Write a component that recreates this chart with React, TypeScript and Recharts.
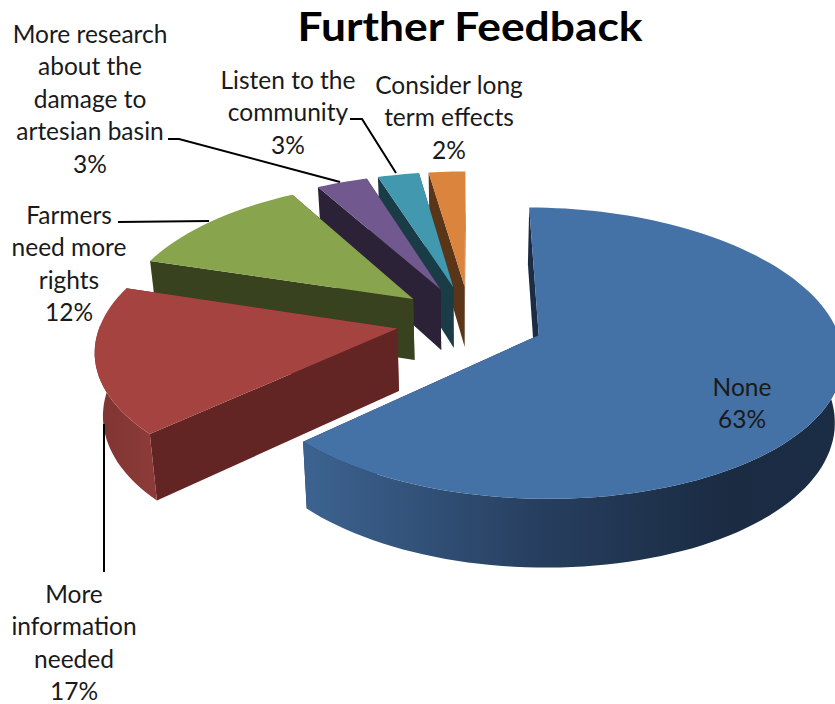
import { PieChart, Pie } from "recharts";

const categories = [
  "None",
  "More information needed",
  "Farmers need more rights",
  "More research about the damage to artesian basin",
  "Listen to the community",
  "Consider long term effects",
];
const shares = [63.2, 16.5, 11.9, 3.3, 2.7, 2.4];

const labelLines = [
  ["None"],
  ["More", "information", "needed"],
  ["Farmers", "need more", "rights"],
  ["More research", "about the", "damage to", "artesian basin"],
  ["Listen to the", "community"],
  ["Consider long", "term effects"],
];

const topColors = ["#4471a6", "#a54340", "#88a44d", "#71588f", "#4198af", "#db843d"];
const wallColors = ["#1b2c44", "#622523", "#39421f", "#2c2238", "#193c46", "#5a3518"];
const rimFills = ["url(#rimBlue)", "url(#rimRed)", "#39421f", "#2c2238", "#193c46", "#5a3518"];

// label centre x, first baseline y, leader line points
const labelLayout = [
  { x: 742, y: 396, leader: "" },
  { x: 74, y: 603, leader: "104,424 104,572" },
  { x: 69, y: 224, leader: "118,222 209,221" },
  { x: 90, y: 43, leader: "168,139 179,139 340,182" },
  { x: 288, y: 89, leader: "350,119 362,119 396,173" },
  { x: 449, y: 94, leader: "" },
];

const CX = 470;
const CY = 320.7;
const EXPLODE = 0.25;
const DEPTH = 62;

const tableData = categories
  .map((name, i) => ({ name, value: shares[i], idx: i }))
  .reverse();

// pie plane (x right, y towards viewer) to screen
const project = (x: number, y: number, rx: number, down = false) => {
  const sx = CX + rx * x * (1 + 0.14 * y);
  const sy = CY + 142 * y + 18 * y * y;
  if (!down) return [sx, sy];
  return [CX + (sx - CX) * 0.978, sy + DEPTH * (1 + 0.1 * y)];
};

const pt = (p: number[]) => `${p[0].toFixed(1)} ${p[1].toFixed(1)}`;

const Slice3D = (props: any) => {
  const { startAngle, endAngle, outerRadius, payload } = props;
  const idx = payload.idx;
  const rx = outerRadius;
  const mid = ((startAngle + endAngle) / 2) * (Math.PI / 180);
  const ox = EXPLODE * Math.cos(mid);
  const oy = -EXPLODE * Math.sin(mid);

  const at = (deg: number, r: number, down = false) => {
    const a = (deg * Math.PI) / 180;
    return project(ox + r * Math.cos(a), oy - r * Math.sin(a), rx, down);
  };

  const steps = Math.max(6, Math.round(Math.abs(endAngle - startAngle) / 2));
  const angles: number[] = [];
  for (let i = 0; i <= steps; i++) {
    angles.push(startAngle + ((endAngle - startAngle) * i) / steps);
  }

  const top =
    "M" + pt(at(0, 0)) + angles.map((d) => " L" + pt(at(d, 1))).join("") + " Z";

  const wall = (deg: number) =>
    "M" + pt(at(0, 0)) + " L" + pt(at(deg, 1)) + " L" + pt(at(deg, 1, true)) + " L" + pt(at(0, 0, true)) + " Z";

  // only the front half of the rim can be seen
  const front = angles.filter((d) => Math.sin((d * Math.PI) / 180) <= 0.02);
  const rim =
    front.length > 1
      ? "M" +
        front.map((d) => pt(at(d, 1))).join(" L") +
        " L" +
        [...front].reverse().map((d) => pt(at(d, 1, true))).join(" L") +
        " Z"
      : "";

  return (
    <g>
      <path d={wall(startAngle)} fill={wallColors[idx]} />
      <path d={wall(endAngle)} fill={wallColors[idx]} />
      {rim && <path d={rim} fill={rimFills[idx]} />}
      <path d={top} fill={topColors[idx]} />
    </g>
  );
};

const SliceLabel = (props: any) => {
  const idx = props.payload?.idx ?? props.idx;
  const spot = labelLayout[idx];
  const lines = [...labelLines[idx], `${Math.round(shares[idx])}%`];
  return (
    <g>
      {spot.leader && (
        <polyline points={spot.leader} fill="none" stroke="#000" strokeWidth={2} />
      )}
      <text
        x={spot.x}
        y={spot.y}
        textAnchor="middle"
        fontFamily="Lato, sans-serif"
        fontSize={24.5}
        fill="#1a1a1a"
      >
        {lines.map((line, i) => (
          <tspan key={i} x={spot.x} dy={i === 0 ? 0 : 32.4}>
            {line}
          </tspan>
        ))}
      </text>
    </g>
  );
};

const App = () => (
  <div style={{ position: "absolute", left: 0, top: 0, width: 835, height: 704, overflow: "hidden", background: "#fff" }}>
    <PieChart width={835} height={704} margin={{ top: 0, right: 0, bottom: 0, left: 0 }}>
      <defs>
        <linearGradient id="rimBlue" gradientUnits="userSpaceOnUse" x1={306} y1={0} x2={835} y2={0}>
          <stop offset="0" stopColor="#3c6390" />
          <stop offset="0.45" stopColor="#263e5e" />
          <stop offset="0.8" stopColor="#1a2b42" />
          <stop offset="1" stopColor="#1b2d44" />
        </linearGradient>
        <linearGradient id="rimRed" gradientUnits="userSpaceOnUse" x1={97} y1={0} x2={157} y2={0}>
          <stop offset="0" stopColor="#7e3533" />
          <stop offset="1" stopColor="#8d3b38" />
        </linearGradient>
      </defs>
      <Pie
        data={tableData}
        dataKey="value"
        nameKey="name"
        cx={CX}
        cy={CY}
        innerRadius={0}
        outerRadius={296}
        startAngle={90}
        endAngle={450}
        paddingAngle={0}
        stroke="none"
        shape={Slice3D}
        label={SliceLabel}
        labelLine={false}
        isAnimationActive={false}
      />
      <text
        x={470}
        y={41}
        textAnchor="middle"
        fontFamily="Lato, sans-serif"
        fontWeight={700}
        fontSize={40}
        textLength={345}
        lengthAdjust="spacingAndGlyphs"
        fill="#000"
      >
        Further Feedback
      </text>
    </PieChart>
  </div>
);

export default App;
